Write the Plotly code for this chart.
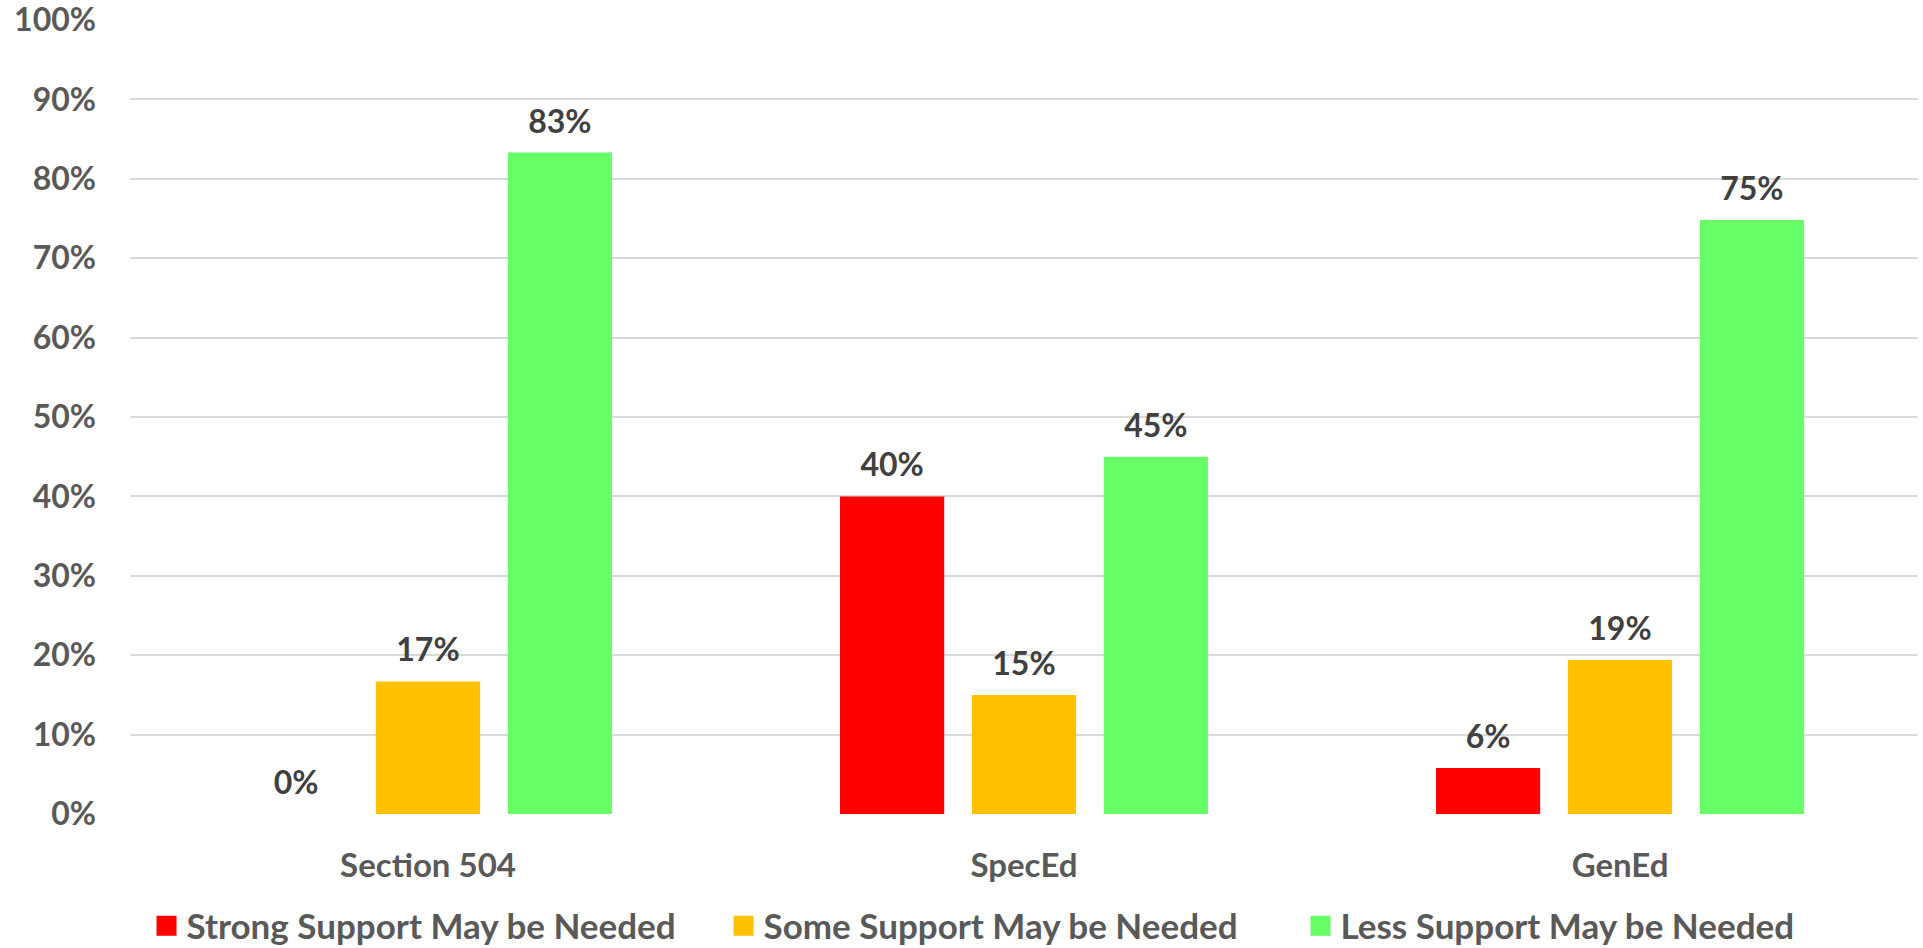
import plotly.graph_objects as go

categories = ["Section 504", "SpecEd", "GenEd"]
series_names = ["Strong Support May be Needed", "Some Support May be Needed", "Less Support May be Needed"]
strong = [0, 40.0, 5.8]
some = [16.7, 15.0, 19.4]
less = [83.3, 45.0, 74.8]
colors = ["#FF0000", "#FFC000", "#66FF66"]
y_ticks = [0, 10, 20, 30, 40, 50, 60, 70, 80, 90, 100]
y_tick_labels = [f"{v}%" for v in y_ticks]

FONT = "Lato"
BARGAP = 0.336
fig = go.Figure()
for name, vals, col in zip(series_names, [strong, some, less], colors):
    fig.add_trace(go.Bar(
        x=categories, y=vals, name=name, legendgroup=name, showlegend=False,
        marker=dict(color=col, line=dict(width=0)), hoverinfo="x+y",
    ))
# value labels, placed by plotly's grouped-scatter positioning at the bar centres
for i, (name, vals) in enumerate(zip(series_names, [strong, some, less])):
    fig.add_trace(go.Scatter(
        x=categories, y=vals, mode="markers+text", legendgroup=name, showlegend=False,
        offsetgroup=f"g{i}", alignmentgroup="labels",
        text=[f"{v:.0f}%" for v in vals], textposition="top center",
        textfont=dict(family=FONT, size=32, color="#404040", weight="bold"),
        marker=dict(size=17.6, opacity=0), hoverinfo="skip", cliponaxis=False,
    ))
# legend entries
for i, (name, col) in enumerate(zip(series_names, colors)):
    fig.add_trace(go.Scatter(
        x=[None], y=[None], mode="markers", name=name, legendgroup=name,
        offsetgroup=f"g{i}", alignmentgroup="labels",
        marker=dict(symbol="square", size=16, color=col, line=dict(color=col, width=4)),
    ))

fig.update_layout(
    width=1923, height=948,
    margin=dict(l=130, r=5, t=20, b=134),
    paper_bgcolor="white", plot_bgcolor="white",
    barmode="group", bargap=BARGAP, bargroupgap=0.21,
    scattermode="group", scattergap=BARGAP,
    font=dict(family=FONT, size=32, color="#595959", weight="bold"),
    showlegend=True,
    legend=dict(orientation="h", x=0.4933, xanchor="center",
                yref="container", y=0.0232, yanchor="middle",
                font=dict(family=FONT, size=35, color="#595959", weight="bold"),
                itemclick=False, itemdoubleclick=False, traceorder="normal",
                entrywidth=532, entrywidthmode="pixels"),
    xaxis=dict(showgrid=False, showline=False, zeroline=False, ticks="", ticklabelstandoff=29,
               automargin=False,
               tickfont=dict(family=FONT, size=33, color="#595959", weight="bold")),
    yaxis=dict(range=[0, 100], tickvals=y_ticks, ticktext=y_tick_labels, showgrid=True,
               gridcolor="#D9D9D9", gridwidth=1.5, zeroline=False, showline=False, ticks="",
               ticklabelstandoff=33, automargin=False, ticklabeloverflow="allow",
               tickfont=dict(family=FONT, size=32, color="#595959", weight="bold")),
)
fig.write_html("out.html", config={"displayModeBar": False},
               post_script="document.body.style.margin='0';")
